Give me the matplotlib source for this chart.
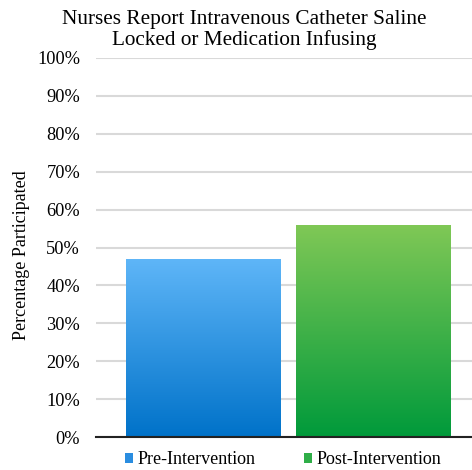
import numpy as np
import matplotlib
matplotlib.use("Agg")
import matplotlib.pyplot as plt
from matplotlib.colors import LinearSegmentedColormap
from matplotlib.patches import Patch

categories = ["Pre-Intervention", "Post-Intervention"]
values = [47, 56]
yticks = [0, 10, 20, 30, 40, 50, 60, 70, 80, 90, 100]
ytick_labels = [f"{v}%" for v in yticks]
title = "Nurses Report Intravenous Catheter Saline\nLocked or Medication Infusing"
ylabel = "Percentage Participated"

top_colors = ["#5fb6f8", "#80c856"]
bottom_colors = ["#0072c9", "#009a3b"]
legend_colors = ["#2a8de0", "#2fae48"]

plt.rcParams['font.family'] = ['Liberation Serif', 'DejaVu Serif']

fig = plt.figure(figsize=(4.72, 4.70), dpi=100)
ax = fig.add_axes([96/472, 1-437/470, (472-96)/472, (437-58)/470])

x = np.arange(len(categories))
bars = ax.bar(x, values, width=0.914, color="none", edgecolor="none", zorder=2)
for b, tc, bc in zip(bars, top_colors, bottom_colors):
    cmap = LinearSegmentedColormap.from_list("g", [bc, tc])
    grad = np.linspace(0, 1, 256).reshape(-1, 1)
    x0, y0 = b.get_x(), b.get_y()
    w, h = b.get_width(), b.get_height()
    im = ax.imshow(grad, cmap=cmap, aspect="auto", origin="lower",
                   extent=[x0, x0 + w, y0, y0 + h], zorder=2)
    im.set_clip_path(b)

ax.set_xlim(-0.634, 1.584)
ax.set_ylim(0, 100)
ax.set_yticks(yticks)
ax.set_yticklabels(ytick_labels, fontsize=13.2)
ax.set_xticks([])
ax.grid(axis="y", color="#d9d9d9", linewidth=1.5, zorder=0)
ax.set_axisbelow(True)
for s in ["top", "right", "left"]:
    ax.spines[s].set_visible(False)
ax.spines["bottom"].set_linewidth(1.5)
ax.spines["bottom"].set_color("#222222")
ax.spines["bottom"].set_zorder(3)
ax.tick_params(axis="y", length=0, pad=11.5)

fig.text(244/472, 1 - 30/470, title, ha="center", va="center", fontsize=15.3, linespacing=1.12)
fig.text(22/472, 1 - 255/470, ylabel, rotation=90, ha="center", va="center", fontsize=13)

handles = [Patch(facecolor=c, edgecolor="none") for c in legend_colors]
fig.legend(handles, categories, loc="center", bbox_to_anchor=(283/472, 1 - 460/470),
           ncol=2, frameon=False, fontsize=13, handlelength=0.45, handleheight=0.45,
           handletextpad=0.25, columnspacing=2.65)

fig.savefig("out.png", dpi=100)
